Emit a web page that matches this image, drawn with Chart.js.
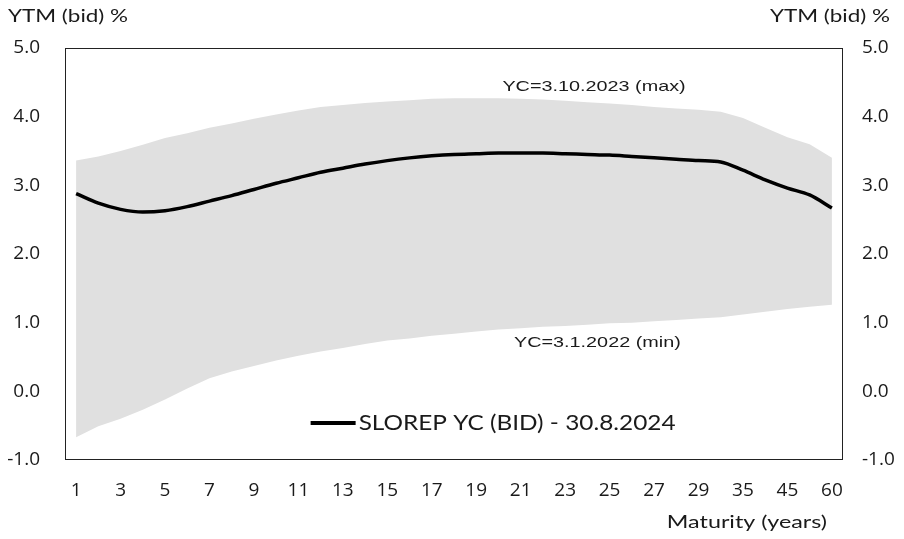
<!DOCTYPE html>
<html>
<head>
<meta charset="utf-8">
<script src="https://cdn.jsdelivr.net/npm/chart.js@4.4.1/dist/chart.umd.min.js"></script>
<style>
  body { margin: 0; background: #fff; }
  #chart { display: block; }
</style>
</head>
<body>
<canvas id="chart" width="904" height="539"></canvas>
<script>
// maturities in years (category axis)
var maturities = ['1','2','3','4','5','6','7','8','9','10','11','12','13','14','15','16','17','18','19','20',
	'21','22','23','24','25','26','27','28','29','30','35','40','45','50','60'];

// SLOREP YC (BID) - 30.8.2024
var bidYields = [2.88, 2.74, 2.65, 2.61, 2.63, 2.69, 2.77, 2.85, 2.94, 3.03, 3.11, 3.19, 3.25, 3.31, 3.36, 3.40, 3.43, 3.45, 3.46, 3.47,
	3.47, 3.47, 3.46, 3.45, 3.44, 3.42, 3.40, 3.38, 3.36, 3.34, 3.22, 3.08, 2.96, 2.86, 2.67];

// YC=3.10.2023 (max)
var maxYields = [3.36, 3.42, 3.50, 3.59, 3.69, 3.76, 3.84, 3.90, 3.97, 4.03, 4.09, 4.14, 4.17, 4.20, 4.22, 4.24, 4.26, 4.27, 4.27, 4.27,
	4.26, 4.25, 4.23, 4.21, 4.19, 4.17, 4.14, 4.12, 4.10, 4.07, 3.98, 3.84, 3.70, 3.60, 3.40];

// YC=3.1.2022 (min)
var minYields = [-0.67, -0.51, -0.40, -0.27, -0.12, 0.04, 0.19, 0.29, 0.37, 0.45, 0.52, 0.58, 0.63, 0.69, 0.74, 0.77, 0.81, 0.84, 0.87, 0.90,
	0.92, 0.94, 0.95, 0.97, 0.99, 1.00, 1.02, 1.04, 1.06, 1.08, 1.12, 1.16, 1.20, 1.23, 1.26];

var yMin = -1, yMax = 5, yStep = 1;
var legendLabel = 'SLOREP YC (BID) - 30.8.2024';
var maxLabel = 'YC=3.10.2023 (max)';
var minLabel = 'YC=3.1.2022 (min)';

var tickFont = '"Open Sans", "Noto Sans", sans-serif';
var titleFont = 'Lato, "Noto Sans", sans-serif';
var textColor = '#1a1a1a';

// text drawn a bit wider than the font, like in the original picture
function wideText(ctx, txt, x, y, align, sx) {
	var w = ctx.measureText(txt).width * sx;
	var left = align === 'left' ? x : (align === 'right' ? x - w : x - w / 2);
	ctx.save();
	ctx.textAlign = 'left';
	ctx.translate(left, y);
	ctx.scale(sx, 1);
	ctx.fillText(txt, 0, 0);
	ctx.restore();
}

// titles, notes, legend and the frame round the plot
var extras = {
	id: 'extras',
	afterDraw: function(chart) {
		var ctx = chart.ctx;
		var a = chart.chartArea;
		var xs = chart.scales.x, ys = chart.scales.y;
		ctx.save();
		ctx.strokeStyle = '#222';
		ctx.lineWidth = 1;
		ctx.strokeRect(a.left + 0.5, a.top + 0.5, a.right - a.left - 1, a.bottom - a.top - 1);

		ctx.fillStyle = textColor;
		ctx.textBaseline = 'middle';
		ctx.font = '17px ' + titleFont;
		wideText(ctx, 'YTM (bid) %', 8, 17, 'left', 1.32);
		wideText(ctx, 'YTM (bid) %', 890, 17, 'right', 1.32);
		wideText(ctx, 'Maturity (years)', 827, 523, 'right', 1.37);

		ctx.font = '15px "Liberation Sans", Arial, sans-serif';
		wideText(ctx, maxLabel, xs.getPixelForValue(23.3), ys.getPixelForValue(4.43), 'center', 1.32);
		wideText(ctx, minLabel, xs.getPixelForValue(23.45), ys.getPixelForValue(0.71), 'center', 1.32);

		// legend
		var ly = ys.getPixelForValue(-0.46);
		var lx = xs.getPixelForValue(10.55);
		ctx.strokeStyle = '#000';
		ctx.lineWidth = 4;
		ctx.beginPath();
		ctx.moveTo(lx, ly);
		ctx.lineTo(lx + 45, ly);
		ctx.stroke();
		ctx.font = '21px ' + titleFont;
		wideText(ctx, legendLabel, lx + 48, ly, 'left', 1.16);
		ctx.restore();
	}
};

new Chart(document.getElementById('chart'), {
	type: 'line',
	data: {
		labels: maturities,
		datasets: [
			{
				label: legendLabel,
				data: bidYields,
				borderColor: '#000',
				borderWidth: 3.5,
				pointRadius: 0,
				cubicInterpolationMode: 'monotone',
				fill: false,
				yAxisID: 'y'
			},
			{
				label: maxLabel,
				data: maxYields,
				borderWidth: 0,
				borderColor: 'rgba(0,0,0,0)',
				backgroundColor: '#e0e0e0',
				pointRadius: 0,
				tension: 0,
				fill: '+1',
				yAxisID: 'y'
			},
			{
				label: minLabel,
				data: minYields,
				borderWidth: 0,
				borderColor: 'rgba(0,0,0,0)',
				pointRadius: 0,
				tension: 0,
				fill: false,
				yAxisID: 'y'
			}
		]
	},
	options: {
		responsive: false,
		animation: false,
		devicePixelRatio: 1,
		layout: { padding: { top: 48, left: 0, right: 0, bottom: 0 } },
		plugins: {
			legend: { display: false },
			tooltip: { enabled: false }
		},
		scales: {
			x: {
				offset: true,
				grid: { display: false, drawTicks: false },
				border: { display: false },
				ticks: {
					autoSkip: false,
					maxRotation: 0,
					padding: 19,
					color: textColor,
					font: { family: tickFont, size: 19 },
					callback: function(v, i) { return i % 2 === 0 ? this.getLabelForValue(v) : ''; }
				},
				afterFit: function(s) { s.height = 79; }
			},
			y: {
				position: 'left',
				min: yMin, max: yMax,
				grid: { display: false, drawTicks: false },
				border: { display: false },
				ticks: {
					stepSize: yStep,
					padding: 25,
					color: textColor,
					font: { family: tickFont, size: 19 },
					callback: function(v) { return v.toFixed(1); }
				},
				afterFit: function(s) { s.width = 65; }
			},
			y2: {
				position: 'right',
				min: yMin, max: yMax,
				grid: { display: false, drawTicks: false },
				border: { display: false },
				ticks: {
					stepSize: yStep,
					padding: 19,
					color: textColor,
					font: { family: tickFont, size: 19 },
					callback: function(v) { return v.toFixed(1); }
				},
				afterFit: function(s) { s.width = 61; }
			}
		}
	},
	plugins: [extras]
});
</script>
</body>
</html>
